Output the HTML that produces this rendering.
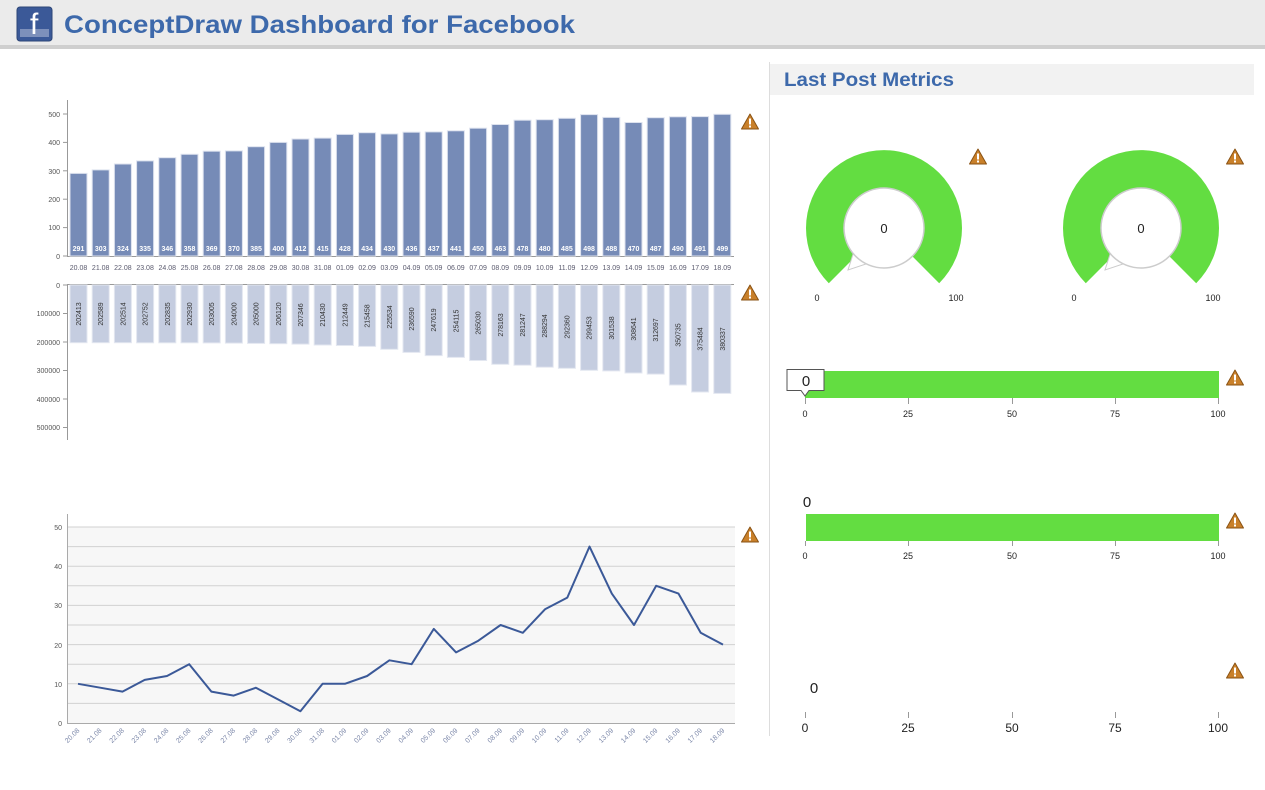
<!DOCTYPE html>
<html><head><meta charset="utf-8"><style>
body{margin:0;width:1265px;height:790px;background:#fff;overflow:hidden;font-family:"Liberation Sans",sans-serif}
svg{position:absolute;left:0;top:0}
</style></head><body>
<svg width="1265" height="790" viewBox="0 0 1265 790" font-family="Liberation Sans, sans-serif">
<defs>
<g id="warn"><path d="M0 -8 L8.5 7 L-8.5 7 Z" fill="#c9802a" stroke="#8a5315" stroke-width="1" stroke-linejoin="round"/><rect x="-1" y="-3.5" width="2" height="6" fill="#fff"/><rect x="-1" y="3.5" width="2" height="2" fill="#fff"/></g>
</defs>
<!-- header -->
<rect x="0" y="0" width="1265" height="45" fill="#ebebeb"/>
<rect x="0" y="45" width="1265" height="4" fill="#cfcfcf"/>
<rect x="17" y="7" width="35" height="34" rx="3" fill="#3b5998" stroke="#2d4677"/>
<rect x="20" y="29" width="29" height="8" fill="#7d90bb"/>
<text x="30" y="34" font-size="30" fill="#fff" font-family="Liberation Sans, sans-serif">f</text>
<text x="64" y="33" font-size="25" font-weight="bold" fill="#3d69ab" textLength="511" lengthAdjust="spacingAndGlyphs">ConceptDraw Dashboard for Facebook</text>

<!-- right panel -->
<line x1="769.5" y1="62" x2="769.5" y2="736" stroke="#ddd"/>
<rect x="770" y="64" width="484" height="31" fill="#f2f2f2"/>
<text x="784" y="86" font-size="19" font-weight="bold" fill="#3d69ab" textLength="170" lengthAdjust="spacingAndGlyphs">Last Post Metrics</text>

<!-- top bar chart -->
<g font-size="7" fill="#555">
<line x1="67.5" y1="100" x2="67.5" y2="257" stroke="#999"/>
<line x1="67" y1="256.5" x2="734" y2="256.5" stroke="#999"/>
<g stroke="#999"><line x1="63" y1="114" x2="67" y2="114"/><line x1="63" y1="142.4" x2="67" y2="142.4"/><line x1="63" y1="170.8" x2="67" y2="170.8"/><line x1="63" y1="199.2" x2="67" y2="199.2"/><line x1="63" y1="227.6" x2="67" y2="227.6"/><line x1="63" y1="256" x2="67" y2="256"/></g>
<g text-anchor="end"><text x="60" y="117">500</text><text x="60" y="145">400</text><text x="60" y="174">300</text><text x="60" y="202">200</text><text x="60" y="230">100</text><text x="60" y="259">0</text></g>
</g>
<g fill="#768bb7" stroke="#dde2ee" stroke-width="1">
<rect x="70" y="173.4" width="17" height="82.6"/><rect x="92.2" y="169.9" width="17" height="86.1"/><rect x="114.4" y="164" width="17" height="92"/><rect x="136.6" y="160.9" width="17" height="95.1"/><rect x="158.8" y="157.7" width="17" height="98.3"/><rect x="181" y="154.3" width="17" height="101.7"/><rect x="203.2" y="151.2" width="17" height="104.8"/><rect x="225.4" y="150.9" width="17" height="105.1"/><rect x="247.6" y="146.7" width="17" height="109.3"/><rect x="269.8" y="142.4" width="17" height="113.6"/><rect x="292" y="139" width="17" height="117"/><rect x="314.2" y="138.1" width="17" height="117.9"/><rect x="336.4" y="134.4" width="17" height="121.6"/><rect x="358.6" y="132.7" width="17" height="123.3"/><rect x="380.8" y="133.9" width="17" height="122.1"/><rect x="403" y="132.2" width="17" height="123.8"/><rect x="425.2" y="131.9" width="17" height="124.1"/><rect x="447.4" y="130.8" width="17" height="125.2"/><rect x="469.6" y="128.2" width="17" height="127.8"/><rect x="491.8" y="124.5" width="17" height="131.5"/><rect x="514" y="120.2" width="17" height="135.8"/><rect x="536.2" y="119.7" width="17" height="136.3"/><rect x="558.4" y="118.3" width="17" height="137.7"/><rect x="580.6" y="114.6" width="17" height="141.4"/><rect x="602.8" y="117.4" width="17" height="138.6"/><rect x="625" y="122.5" width="17" height="133.5"/><rect x="647.2" y="117.7" width="17" height="138.3"/><rect x="669.4" y="116.8" width="17" height="139.2"/><rect x="691.6" y="116.6" width="17" height="139.4"/><rect x="713.8" y="114.3" width="17" height="141.7"/>
</g>
<g font-size="7" fill="#fff" font-weight="bold" text-anchor="middle">
<text x="78.5" y="251">291</text><text x="100.7" y="251">303</text><text x="122.9" y="251">324</text><text x="145.1" y="251">335</text><text x="167.3" y="251">346</text><text x="189.5" y="251">358</text><text x="211.7" y="251">369</text><text x="233.9" y="251">370</text><text x="256.1" y="251">385</text><text x="278.3" y="251">400</text><text x="300.5" y="251">412</text><text x="322.7" y="251">415</text><text x="344.9" y="251">428</text><text x="367.1" y="251">434</text><text x="389.3" y="251">430</text><text x="411.5" y="251">436</text><text x="433.7" y="251">437</text><text x="455.9" y="251">441</text><text x="478.1" y="251">450</text><text x="500.3" y="251">463</text><text x="522.5" y="251">478</text><text x="544.7" y="251">480</text><text x="566.9" y="251">485</text><text x="589.1" y="251">498</text><text x="611.3" y="251">488</text><text x="633.5" y="251">470</text><text x="655.7" y="251">487</text><text x="677.9" y="251">490</text><text x="700.1" y="251">491</text><text x="722.3" y="251">499</text>
</g>
<g font-size="7" fill="#5a5a6e" text-anchor="middle">
<text x="78.5" y="270">20.08</text><text x="100.7" y="270">21.08</text><text x="122.9" y="270">22.08</text><text x="145.1" y="270">23.08</text><text x="167.3" y="270">24.08</text><text x="189.5" y="270">25.08</text><text x="211.7" y="270">26.08</text><text x="233.9" y="270">27.08</text><text x="256.1" y="270">28.08</text><text x="278.3" y="270">29.08</text><text x="300.5" y="270">30.08</text><text x="322.7" y="270">31.08</text><text x="344.9" y="270">01.09</text><text x="367.1" y="270">02.09</text><text x="389.3" y="270">03.09</text><text x="411.5" y="270">04.09</text><text x="433.7" y="270">05.09</text><text x="455.9" y="270">06.09</text><text x="478.1" y="270">07.09</text><text x="500.3" y="270">08.09</text><text x="522.5" y="270">09.09</text><text x="544.7" y="270">10.09</text><text x="566.9" y="270">11.09</text><text x="589.1" y="270">12.09</text><text x="611.3" y="270">13.09</text><text x="633.5" y="270">14.09</text><text x="655.7" y="270">15.09</text><text x="677.9" y="270">16.09</text><text x="700.1" y="270">17.09</text><text x="722.3" y="270">18.09</text>
</g>

<!-- lower bar chart -->
<g font-size="7" fill="#555">
<line x1="67.5" y1="284" x2="67.5" y2="440" stroke="#999"/>
<line x1="67" y1="284.5" x2="734" y2="284.5" stroke="#999"/>
<g stroke="#999"><line x1="63" y1="285" x2="67" y2="285"/><line x1="63" y1="313.5" x2="67" y2="313.5"/><line x1="63" y1="342" x2="67" y2="342"/><line x1="63" y1="370.5" x2="67" y2="370.5"/><line x1="63" y1="399" x2="67" y2="399"/><line x1="63" y1="427.5" x2="67" y2="427.5"/></g>
<g text-anchor="end"><text x="60" y="288">0</text><text x="60" y="316">100000</text><text x="60" y="345">200000</text><text x="60" y="373">300000</text><text x="60" y="402">400000</text><text x="60" y="430">500000</text></g>
</g>
<g fill="#c5cde0" stroke="#e3e7f0" stroke-width="1">
<rect x="70" y="285" width="17" height="57.7"/><rect x="92.2" y="285" width="17" height="57.7"/><rect x="114.4" y="285" width="17" height="57.7"/><rect x="136.6" y="285" width="17" height="57.8"/><rect x="158.8" y="285" width="17" height="57.8"/><rect x="181" y="285" width="17" height="57.8"/><rect x="203.2" y="285" width="17" height="57.9"/><rect x="225.4" y="285" width="17" height="58.1"/><rect x="247.6" y="285" width="17" height="58.4"/><rect x="269.8" y="285" width="17" height="58.7"/><rect x="292" y="285" width="17" height="59.1"/><rect x="314.2" y="285" width="17" height="60"/><rect x="336.4" y="285" width="17" height="60.5"/><rect x="358.6" y="285" width="17" height="61.4"/><rect x="380.8" y="285" width="17" height="64.3"/><rect x="403" y="285" width="17" height="67.4"/><rect x="425.2" y="285" width="17" height="70.6"/><rect x="447.4" y="285" width="17" height="72.4"/><rect x="469.6" y="285" width="17" height="75.5"/><rect x="491.8" y="285" width="17" height="79.3"/><rect x="514" y="285" width="17" height="80.2"/><rect x="536.2" y="285" width="17" height="82.2"/><rect x="558.4" y="285" width="17" height="83.3"/><rect x="580.6" y="285" width="17" height="85.3"/><rect x="602.8" y="285" width="17" height="85.9"/><rect x="625" y="285" width="17" height="88"/><rect x="647.2" y="285" width="17" height="89.1"/><rect x="669.4" y="285" width="17" height="100"/><rect x="691.6" y="285" width="17" height="107"/><rect x="713.8" y="285" width="17" height="108.4"/>
</g>
<g font-size="7" fill="#333" text-anchor="middle">
<text transform="translate(81,314) rotate(-90)">202413</text><text transform="translate(103.2,314) rotate(-90)">202589</text><text transform="translate(125.4,314) rotate(-90)">202514</text><text transform="translate(147.6,314) rotate(-90)">202752</text><text transform="translate(169.8,314) rotate(-90)">202835</text><text transform="translate(192,314) rotate(-90)">202930</text><text transform="translate(214.2,314) rotate(-90)">203005</text><text transform="translate(236.4,314) rotate(-90)">204000</text><text transform="translate(258.6,314) rotate(-90)">205000</text><text transform="translate(280.8,314) rotate(-90)">206120</text><text transform="translate(303,315) rotate(-90)">207346</text><text transform="translate(325.2,315) rotate(-90)">210430</text><text transform="translate(347.4,315) rotate(-90)">212449</text><text transform="translate(369.6,316) rotate(-90)">215458</text><text transform="translate(391.8,317) rotate(-90)">225534</text><text transform="translate(414,319) rotate(-90)">236590</text><text transform="translate(436.2,320) rotate(-90)">247619</text><text transform="translate(458.4,321) rotate(-90)">254115</text><text transform="translate(480.6,323) rotate(-90)">265030</text><text transform="translate(502.8,325) rotate(-90)">278163</text><text transform="translate(525,325) rotate(-90)">281247</text><text transform="translate(547.2,326) rotate(-90)">288294</text><text transform="translate(569.4,327) rotate(-90)">292360</text><text transform="translate(591.6,328) rotate(-90)">299453</text><text transform="translate(613.8,328) rotate(-90)">301538</text><text transform="translate(636,329) rotate(-90)">308641</text><text transform="translate(658.2,330) rotate(-90)">312697</text><text transform="translate(680.4,335) rotate(-90)">350735</text><text transform="translate(702.6,339) rotate(-90)">375484</text><text transform="translate(724.8,339) rotate(-90)">380337</text>
</g>

<!-- line chart -->
<rect x="67" y="527" width="668" height="196" fill="#f7f7f7"/>
<g stroke="#d2d2d2" stroke-width="1">
<line x1="67" y1="527" x2="735" y2="527"/><line x1="67" y1="546.6" x2="735" y2="546.6"/><line x1="67" y1="566.2" x2="735" y2="566.2"/><line x1="67" y1="585.8" x2="735" y2="585.8"/><line x1="67" y1="605.4" x2="735" y2="605.4"/><line x1="67" y1="625" x2="735" y2="625"/><line x1="67" y1="644.6" x2="735" y2="644.6"/><line x1="67" y1="664.2" x2="735" y2="664.2"/><line x1="67" y1="683.8" x2="735" y2="683.8"/><line x1="67" y1="703.4" x2="735" y2="703.4"/>
</g>
<line x1="67.5" y1="514" x2="67.5" y2="724" stroke="#aaa"/>
<line x1="67" y1="723.5" x2="735" y2="723.5" stroke="#aaa"/>
<g font-size="7" fill="#555" text-anchor="end"><text x="62" y="530">50</text><text x="62" y="569">40</text><text x="62" y="608">30</text><text x="62" y="648">20</text><text x="62" y="687">10</text><text x="62" y="726">0</text></g>
<polyline fill="none" stroke="#3b5998" stroke-width="2" stroke-linejoin="round" points="78,683.8 100.2,687.7 122.5,691.6 144.7,679.9 167,676 189.2,664.2 211.4,691.6 233.7,695.6 255.9,687.7 278.2,699.5 300.4,711.2 322.6,683.8 344.9,683.8 367.1,676 389.4,660.3 411.6,664.2 433.8,628.9 456.1,652.4 478.3,640.7 500.6,625 522.8,632.8 545,609.3 567.3,597.6 589.5,546.6 611.8,593.6 634,625 656.2,585.8 678.5,593.6 700.7,632.8 723,644.6"/>
<g font-size="7" fill="#7a86a8" text-anchor="end">
<text transform="translate(80,731) rotate(-45)">20.08</text><text transform="translate(102.2,731) rotate(-45)">21.08</text><text transform="translate(124.5,731) rotate(-45)">22.08</text><text transform="translate(146.7,731) rotate(-45)">23.08</text><text transform="translate(169,731) rotate(-45)">24.08</text><text transform="translate(191.2,731) rotate(-45)">25.08</text><text transform="translate(213.4,731) rotate(-45)">26.08</text><text transform="translate(235.7,731) rotate(-45)">27.08</text><text transform="translate(257.9,731) rotate(-45)">28.08</text><text transform="translate(280.2,731) rotate(-45)">29.08</text><text transform="translate(302.4,731) rotate(-45)">30.08</text><text transform="translate(324.6,731) rotate(-45)">31.08</text><text transform="translate(346.9,731) rotate(-45)">01.09</text><text transform="translate(369.1,731) rotate(-45)">02.09</text><text transform="translate(391.4,731) rotate(-45)">03.09</text><text transform="translate(413.6,731) rotate(-45)">04.09</text><text transform="translate(435.8,731) rotate(-45)">05.09</text><text transform="translate(458.1,731) rotate(-45)">06.09</text><text transform="translate(480.3,731) rotate(-45)">07.09</text><text transform="translate(502.6,731) rotate(-45)">08.09</text><text transform="translate(524.8,731) rotate(-45)">09.09</text><text transform="translate(547,731) rotate(-45)">10.09</text><text transform="translate(569.3,731) rotate(-45)">11.09</text><text transform="translate(591.5,731) rotate(-45)">12.09</text><text transform="translate(613.8,731) rotate(-45)">13.09</text><text transform="translate(636,731) rotate(-45)">14.09</text><text transform="translate(658.2,731) rotate(-45)">15.09</text><text transform="translate(680.5,731) rotate(-45)">16.09</text><text transform="translate(702.7,731) rotate(-45)">17.09</text><text transform="translate(725,731) rotate(-45)">18.09</text>
</g>

<!-- gauges -->
<g>
<path d="M828.8 283.2 A78 78 0 1 1 939.2 283.2 L912.3 256.3 A40 40 0 1 0 855.7 256.3 Z" fill="#63dd41"/>
<path d="M855 248 L848 270 L866 264 Z" fill="#fff" stroke="#ccc"/>
<circle cx="884" cy="228" r="40" fill="#fff" stroke="#ccc" stroke-width="1.5"/>
<text x="884" y="233" font-size="13" text-anchor="middle" fill="#222">0</text>
<text x="817" y="301" font-size="9" text-anchor="middle" fill="#222">0</text>
<text x="956" y="301" font-size="9" text-anchor="middle" fill="#222">100</text>
</g>
<g transform="translate(257,0)">
<path d="M828.8 283.2 A78 78 0 1 1 939.2 283.2 L912.3 256.3 A40 40 0 1 0 855.7 256.3 Z" fill="#63dd41"/>
<path d="M855 248 L848 270 L866 264 Z" fill="#fff" stroke="#ccc"/>
<circle cx="884" cy="228" r="40" fill="#fff" stroke="#ccc" stroke-width="1.5"/>
<text x="884" y="233" font-size="13" text-anchor="middle" fill="#222">0</text>
<text x="817" y="301" font-size="9" text-anchor="middle" fill="#222">0</text>
<text x="956" y="301" font-size="9" text-anchor="middle" fill="#222">100</text>
</g>

<!-- linear gauge 1 -->
<rect x="805" y="371" width="414" height="27" fill="#63dd41"/>
<g stroke="#999"><line x1="805.5" y1="398" x2="805.5" y2="404"/><line x1="908.5" y1="398" x2="908.5" y2="404"/><line x1="1012.5" y1="398" x2="1012.5" y2="404"/><line x1="1115.5" y1="398" x2="1115.5" y2="404"/><line x1="1218.5" y1="398" x2="1218.5" y2="404"/></g>
<g font-size="9" fill="#222" text-anchor="middle"><text x="805" y="417">0</text><text x="908" y="417">25</text><text x="1012" y="417">50</text><text x="1115" y="417">75</text><text x="1218" y="417">100</text></g>
<path d="M787 369.5 H824 V390.5 H809 L805 396 L801 390.5 H787 Z" fill="#fff" stroke="#555"/>
<text x="806" y="386" font-size="15" text-anchor="middle" fill="#222">0</text>

<!-- linear gauge 2 -->
<rect x="806" y="514" width="413" height="27" fill="#63dd41"/>
<g stroke="#999"><line x1="805.5" y1="541" x2="805.5" y2="546"/><line x1="908.5" y1="541" x2="908.5" y2="546"/><line x1="1012.5" y1="541" x2="1012.5" y2="546"/><line x1="1115.5" y1="541" x2="1115.5" y2="546"/><line x1="1218.5" y1="541" x2="1218.5" y2="546"/></g>
<g font-size="9" fill="#222" text-anchor="middle"><text x="805" y="559">0</text><text x="908" y="559">25</text><text x="1012" y="559">50</text><text x="1115" y="559">75</text><text x="1218" y="559">100</text></g>
<text x="807" y="507" font-size="15" text-anchor="middle" fill="#222">0</text>

<!-- linear gauge 3 -->
<g stroke="#999"><line x1="805.5" y1="712" x2="805.5" y2="718"/><line x1="908.5" y1="712" x2="908.5" y2="718"/><line x1="1012.5" y1="712" x2="1012.5" y2="718"/><line x1="1115.5" y1="712" x2="1115.5" y2="718"/><line x1="1218.5" y1="712" x2="1218.5" y2="718"/></g>
<g font-size="12" fill="#222" text-anchor="middle"><text x="805" y="732">0</text><text x="908" y="732">25</text><text x="1012" y="732">50</text><text x="1115" y="732">75</text><text x="1218" y="732">100</text></g>
<text x="814" y="693" font-size="15" text-anchor="middle" fill="#222">0</text>

<!-- warning icons -->
<use href="#warn" x="750" y="122"/>
<use href="#warn" x="750" y="293"/>
<use href="#warn" x="750" y="535"/>
<use href="#warn" x="978" y="157"/>
<use href="#warn" x="1235" y="157"/>
<use href="#warn" x="1235" y="378"/>
<use href="#warn" x="1235" y="521"/>
<use href="#warn" x="1235" y="671"/>
</svg>
</body></html>
